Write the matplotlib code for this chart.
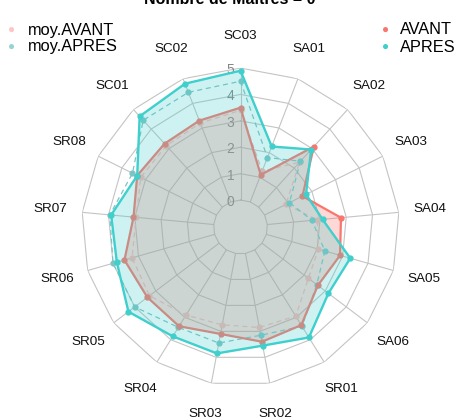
import numpy as np
import matplotlib
matplotlib.use("Agg")
import matplotlib.pyplot as plt
from matplotlib import transforms

plt.rcParams['font.family'] = ['Liberation Sans', 'DejaVu Sans']

# axes of the radar, clockwise from the top
axes_labels = ['SC03', 'SA01', 'SA02', 'SA03', 'SA04', 'SA05', 'SA06', 'SR01',
               'SR02', 'SR03', 'SR04', 'SR05', 'SR06', 'SR07', 'SR08', 'SC01', 'SC02']

avant     = [3.5, 1.1, 3.1, 1.6, 2.8, 2.9, 2.65, 3.35, 3.4, 3.1, 3.4, 3.4, 3.55, 3.05, 3.35, 3.25, 3.3]
apres     = [4.9, 2.25, 2.95, 1.75, 2.1, 3.3, 3.15, 3.9, 3.55, 3.85, 3.85, 4.3, 3.85, 3.9, 3.35, 4.65, 4.8]
moy_avant = [3.4, 1.25, 2.3, 0.9, 1.9, 2.05, 2.2, 2.95, 2.85, 2.75, 2.9, 3.3, 3.25, 2.95, 3.2, 3.15, 3.2]
moy_apres = [4.5, 1.8, 2.35, 1.05, 1.7, 2.3, 2.6, 3.4, 3.15, 3.45, 3.45, 4.0, 4.0, 3.95, 3.55, 4.45, 4.45]

grid_levels = [0, 1, 2, 3, 4, 5]

RED = '#F8766D'
CYAN = '#3FCFCC'

n = len(axes_labels)
theta = np.linspace(0, 2 * np.pi, n, endpoint=False)
theta_c = np.append(theta, theta[0])


def closed(v):
    return np.append(v, v[0])


fig = plt.figure(figsize=(4.59, 4.2), dpi=100)
ax = fig.add_axes([0.1776, 0.081, 0.6928, 0.757], projection='polar')
ax.set_theta_zero_location('N')
ax.set_theta_direction(-1)
ax.set_ylim(-1.02, 5.0)
ax.grid(False)
ax.spines['polar'].set_visible(False)
ax.set_xticks([])
ax.set_yticks([])
ax.patch.set_alpha(0)

# polygon grid
for lv in grid_levels:
    ax.plot(theta_c, [lv] * (n + 1), color='#c4c4c4', lw=0.8, zorder=1)
for t in theta:
    ax.plot([t, t], [0, 5], color='#c4c4c4', lw=0.8, zorder=1)

# grid values
lab_tr = transforms.offset_copy(ax.transData, fig=fig, x=-10, y=-2, units='dots')
for lv in grid_levels:
    ax.text(0, lv, str(lv), transform=lab_tr, ha='center', va='center',
            color='#858585', fontsize=10, zorder=2)

# AVANT underneath
ax.fill(theta_c, closed(avant), color=RED, alpha=0.28, lw=0, zorder=3)
ax.plot(theta_c, closed(moy_avant), color='#f6b4b0', lw=0.9, ls=(0, (4, 3)), zorder=4)
ax.plot(theta, moy_avant, 'o', color='#f6b4b0', ms=3.5, zorder=4)
ax.plot(theta_c, closed(moy_apres), color='#7cc4c4', lw=0.9, ls=(0, (4, 3)), zorder=4)
ax.plot(theta, moy_apres, 'o', color='#7cc4c4', ms=3.5, zorder=4)
ax.plot(theta_c, closed(avant), color=RED, lw=1.6, zorder=5)
ax.plot(theta, avant, 'o', color=RED, ms=3.5, zorder=5)

# APRES on top
ax.fill(theta_c, closed(apres), color=CYAN, alpha=0.25, lw=0, zorder=6)
ax.plot(theta_c, closed(apres), color=CYAN, lw=1.7, zorder=7)
ax.plot(theta, apres, 'o', color=CYAN, ms=3.5, zorder=7)

# axis labels
for t, lab in zip(theta, axes_labels):
    ax.text(t, 6.2, lab, ha='center', va='center', fontsize=9.7, color='#111111', clip_on=False)

# title, cut by the top edge
fig.text(0.5, 1.0, 'Nombre de Maîtres = 0', ha='center', va='center',
         fontsize=11.5, fontweight='bold')

# legends
fig.text(0.026, 1 - 29.5 / 420, '\u25CF', color='#ffc4c4', fontsize=8.5, ha='center', va='center')
fig.text(0.026, 1 - 46.5 / 420, '\u25CF', color='#96d3d3', fontsize=8.5, ha='center', va='center')
fig.text(0.061, 1 - 30 / 420, 'moy.AVANT', fontsize=11.8, ha='left', va='center')
fig.text(0.061, 1 - 47 / 420, 'moy.APRES', fontsize=11.8, ha='left', va='center')
fig.text(0.839, 1 - 29.5 / 420, '\u25CF', color=RED, fontsize=8.5, ha='center', va='center')
fig.text(0.839, 1 - 46.5 / 420, '\u25CF', color=CYAN, fontsize=8.5, ha='center', va='center')
fig.text(0.871, 1 - 30 / 420, 'AVANT', fontsize=11.8, ha='left', va='center')
fig.text(0.871, 1 - 47 / 420, 'APRES', fontsize=11.8, ha='left', va='center')

fig.savefig('out.png', dpi=100)
